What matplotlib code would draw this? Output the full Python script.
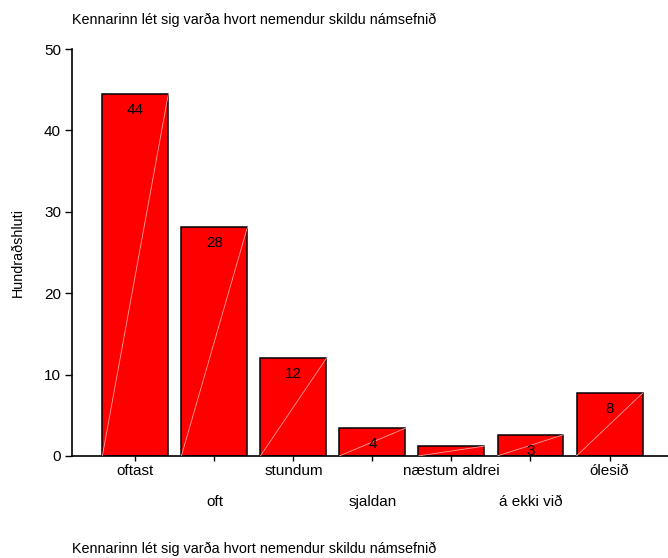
import matplotlib
matplotlib.use("Agg")
import matplotlib.pyplot as plt
import numpy as np

plt.rcParams['font.family'] = ['Liberation Sans', 'DejaVu Sans']

categories = ["oftast", "oft", "stundum", "sjaldan", "næstum aldrei", "á ekki við", "ólesið"]
values = [44.5, 28.1, 12.0, 3.4, 1.2, 2.6, 7.7]
labels = ["44", "28", "12", "4", "", "3", "8"]
title = "Kennarinn lét sig varða hvort nemendur skildu námsefnið"
ylabel = "Hundraðshluti"

fig = plt.figure(figsize=(6.68, 5.58), dpi=100)
ax = fig.add_axes([0.108, 0.183, 0.892, 0.729])

x = np.arange(len(categories))
w = 0.835
ax.bar(x, values, width=w, color="#ff0000", edgecolor="black", linewidth=1.1, zorder=2)
for xi, v, lab in zip(x, values, labels):
    ax.plot([xi - w / 2, xi + w / 2], [0, v], color="#ffa0a0", linewidth=0.6, zorder=3)
    if lab:
        ax.text(xi, v - 1.1, lab, ha="center", va="top", fontsize=11, zorder=4)

ax.set_xlim(-0.8, 6.74)
ax.set_ylim(0, 50)
ax.set_yticks([0, 10, 20, 30, 40, 50])
ax.tick_params(axis="y", labelsize=11, length=5, width=1, pad=3)
ax.set_xticks(x)
ax.set_xticklabels([])
ax.tick_params(axis="x", length=3.5, width=1)

for xi, c in zip(x, categories):
    yfrac = -0.02 if xi % 2 == 0 else -0.097
    ax.text(xi, yfrac, c, transform=ax.get_xaxis_transform(), ha="center", va="top",
            fontsize=11)

for s in ["top", "right"]:
    ax.spines[s].set_visible(False)
ax.spines["left"].set_linewidth(1.2)
ax.spines["bottom"].set_linewidth(1.2)

fig.text(0.108, 0.965, title, ha="left", va="center", fontsize=10.4)
fig.text(0.108, 0.016, title, ha="left", va="center", fontsize=10.4)
fig.text(0.027, 0.547, ylabel, rotation=90, ha="center", va="center", fontsize=10.4)

fig.savefig("out.png", dpi=100)
